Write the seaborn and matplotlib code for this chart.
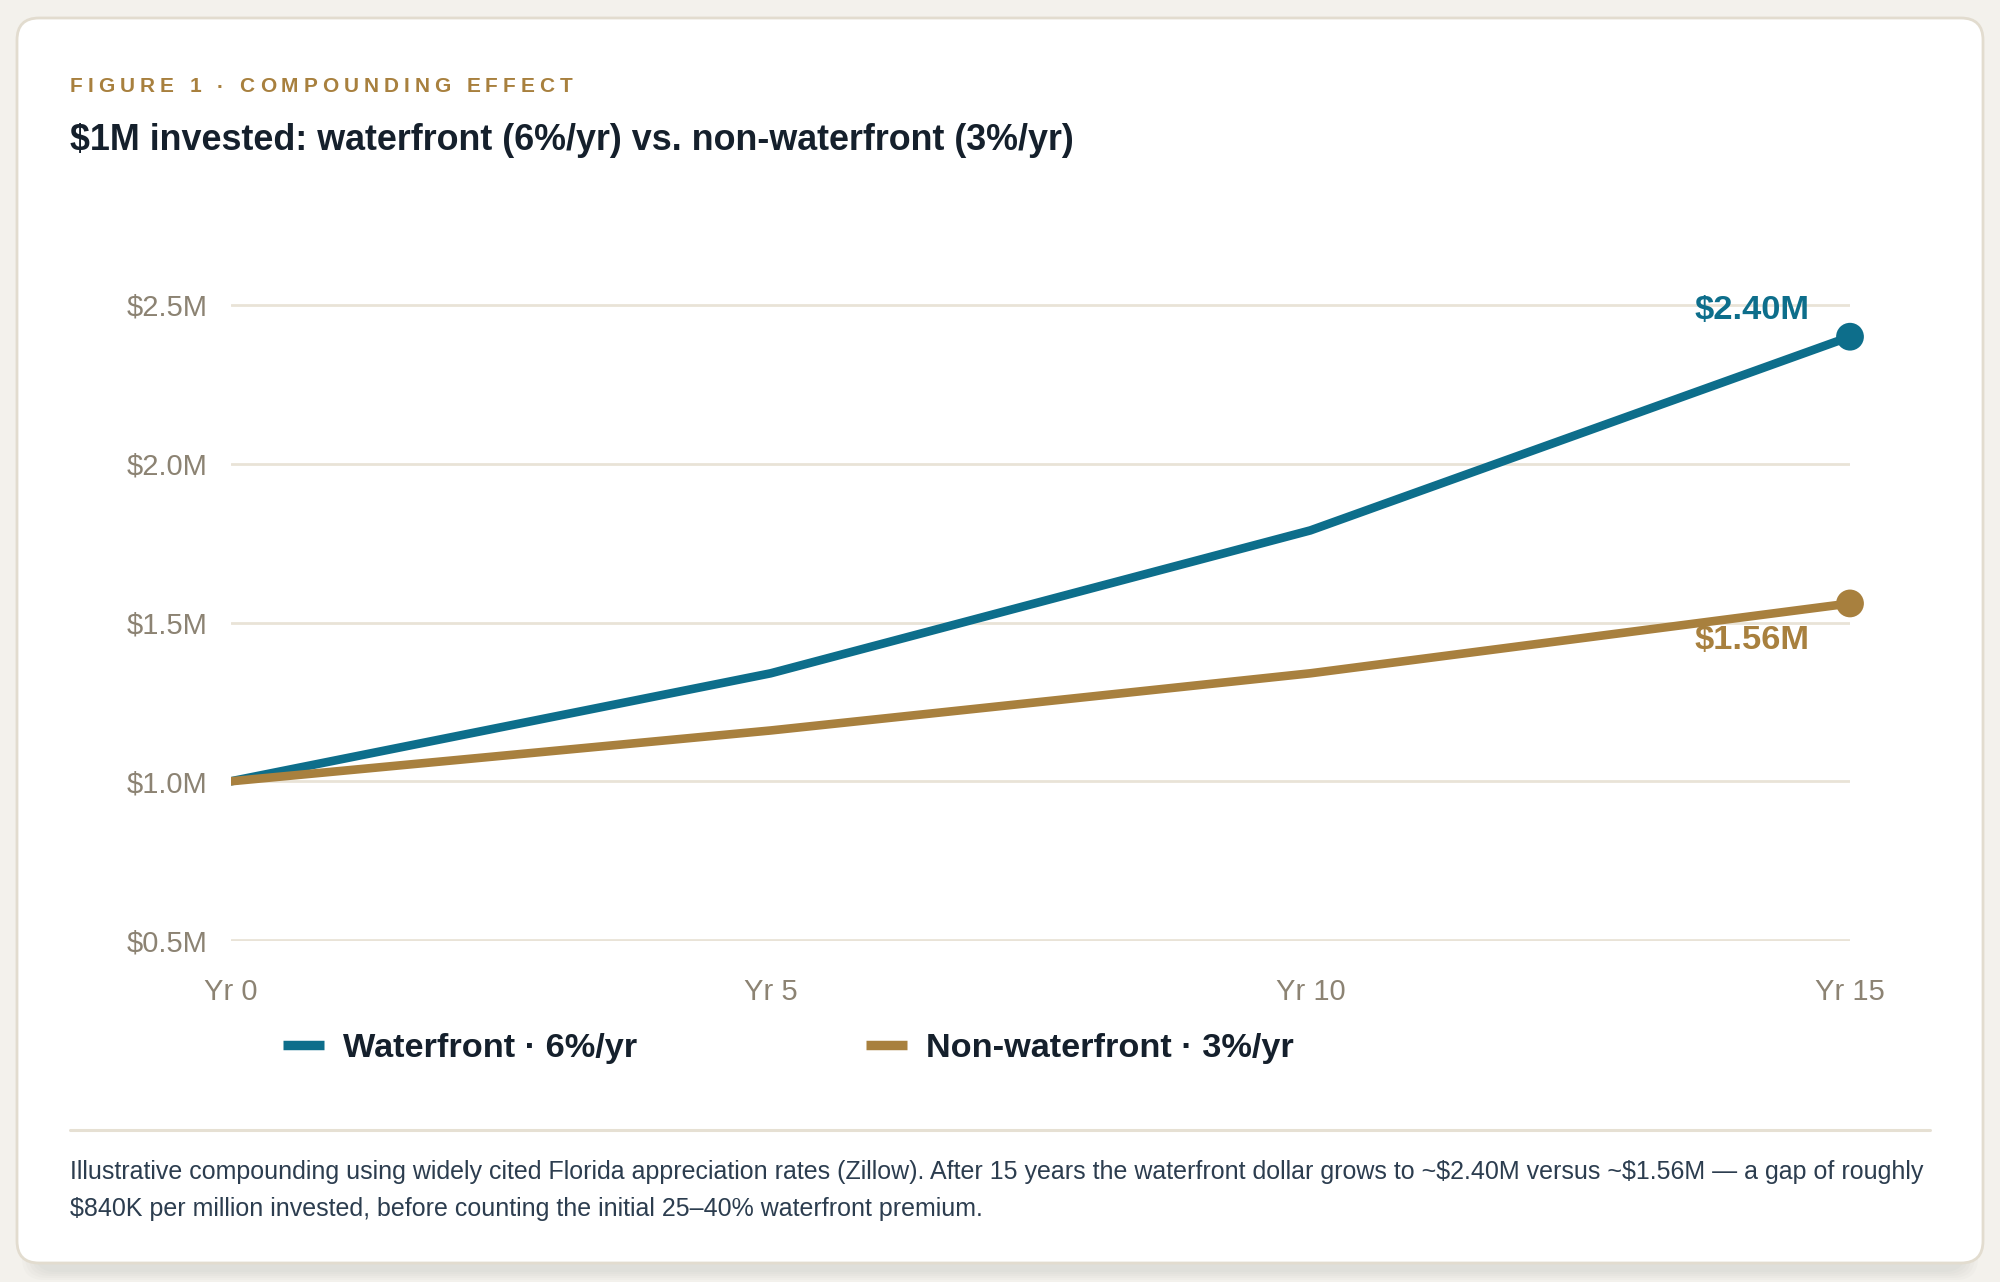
import numpy as np
import pandas as pd
import matplotlib
matplotlib.use("Agg")
import matplotlib.pyplot as plt
import seaborn as sns
from matplotlib.patches import FancyBboxPatch
from matplotlib.lines import Line2D
from matplotlib.transforms import IdentityTransform

# --- data ---
YEARS = [0, 5, 10, 15]
YEAR_LABELS = ["Yr 0", "Yr 5", "Yr 10", "Yr 15"]
WATERFRONT = [1.00, 1.34, 1.79, 2.40]
NON_WATERFRONT = [1.00, 1.16, 1.34, 1.56]
SERIES = ["Waterfront · 6%/yr", "Non-waterfront · 3%/yr"]
END_LABELS = ["$2.40M", "$1.56M"]
Y_TICKS = [0.5, 1.0, 1.5, 2.0, 2.5]
Y_LABELS = ["$0.5M", "$1.0M", "$1.5M", "$2.0M", "$2.5M"]

KICKER = "FIGURE 1 · COMPOUNDING EFFECT"
TITLE = "$1M invested: waterfront (6%/yr) vs. non-waterfront (3%/yr)"
CAPTION = [
    "Illustrative compounding using widely cited Florida appreciation rates (Zillow). After 15 years the "
    "waterfront dollar grows to ~$2.40M versus ~$1.56M — a gap of roughly",
    "$840K per million invested, before counting the initial 25–40% waterfront premium.",
]

# --- style ---
TEAL = "#0d6e8b"
GOLD = "#a8803e"
INK = "#15202c"
MUTED = "#8c8373"
GRID = "#e9e3d7"
BG = "#f3f1ec"
W, H = 2000, 1282

sns.set_style("white")
plt.rcParams["font.family"] = ["Liberation Sans", "DejaVu Sans"]

df = pd.DataFrame({
    "year": YEARS * 2,
    "value": WATERFRONT + NON_WATERFRONT,
    "series": [SERIES[0]] * len(YEARS) + [SERIES[1]] * len(YEARS),
})
ends = df[df["year"] == YEARS[-1]]
palette = {SERIES[0]: TEAL, SERIES[1]: GOLD}

fig = plt.figure(figsize=(W / 100, H / 100), dpi=100)
fig.patch.set_facecolor(BG)

# card + soft shadow
for i in range(5):
    fig.patches.append(FancyBboxPatch((22 + i * 3, 2 + i * 2), W - 44 - i * 6, 1240,
                                      boxstyle="round,pad=0,rounding_size=22",
                                      transform=IdentityTransform(), facecolor="#9aa39b",
                                      edgecolor="none", alpha=0.045, zorder=0))
fig.patches.append(FancyBboxPatch((17, H - 1263), W - 34, 1263 - 18,
                                  boxstyle="round,pad=0,rounding_size=22",
                                  transform=IdentityTransform(), facecolor="white",
                                  edgecolor="#e2dccf", linewidth=2, zorder=1))

ax = fig.add_axes([231 / W, 1 - 941 / H, (1850 - 231) / W, (941 - 304) / H])
ax.set_facecolor("none")
ax.set_zorder(2)

sns.lineplot(data=df, x="year", y="value", hue="series", palette=palette,
             linewidth=6.2, legend=False, ax=ax, zorder=3)
sns.scatterplot(data=ends, x="year", y="value", hue="series", palette=palette,
                s=400, linewidth=0, legend=False, ax=ax, zorder=4, clip_on=False)

ax.set_xlim(YEARS[0], YEARS[-1])
ax.set_ylim(0.497, 2.503)
ax.set_xticks(YEARS)
ax.set_xticklabels(YEAR_LABELS)
ax.set_yticks(Y_TICKS)
ax.set_yticklabels(Y_LABELS)
ax.set_xlabel("")
ax.set_ylabel("")
ax.yaxis.grid(True, color=GRID, linewidth=2)
ax.xaxis.grid(False)
sns.despine(ax=ax, left=True, bottom=True)
ax.tick_params(axis="y", length=0, pad=17, labelsize=21, labelcolor=MUTED)
ax.tick_params(axis="x", length=0, pad=26.5, labelsize=21, labelcolor=MUTED)

# end-point value labels
offsets = [(-29, 19), (-29, -27)]
for (_, row), lab, col, off in zip(ends.iterrows(), END_LABELS, [TEAL, GOLD], offsets):
    ax.annotate(lab, (row["year"], row["value"]), xytext=off, textcoords="offset points",
                ha="right", va="center", fontsize=24.8, fontweight="bold", color=col,
                annotation_clip=False)

# legend
handles = [Line2D([], [], color=palette[s], linewidth=6.8, solid_capstyle="butt") for s in SERIES]
leg = fig.legend(handles, SERIES, loc="center left", bbox_to_anchor=(283 / W, 1 - 1048 / H),
                 ncol=2, frameon=False, handlelength=1.2, handletextpad=0.55,
                 columnspacing=6.68, borderpad=0, borderaxespad=0,
                 prop={"size": 24.7, "weight": "bold"})
for t in leg.get_texts():
    t.set_color(INK)

# kicker with letter spacing
renderer = fig.canvas.get_renderer()
x = 70
for ch in KICKER:
    t = fig.text(x / W, 1 - 87 / H, ch, fontsize=15, fontweight="bold", color=GOLD,
                 va="center", ha="left")
    w, _, _ = renderer.get_text_width_height_descent(ch, t.get_fontproperties(), ismath=False)
    x += w + 5.0

fig.text(70 / W, 1 - 141 / H, TITLE, fontsize=25.8, fontweight="bold", color=INK,
         va="center", ha="left", parse_math=False)

# divider + caption
fig.add_artist(Line2D([70 / W, 1930 / W], [1 - 1130 / H] * 2, color="#e6e0d3", linewidth=2.2))
for line, yy in zip(CAPTION, [1172, 1209]):
    fig.text(70 / W, 1 - yy / H, line, fontsize=18.0, color="#2c3d4f", va="center", ha="left",
             parse_math=False)

fig.savefig("out.png", dpi=100, facecolor=BG)
